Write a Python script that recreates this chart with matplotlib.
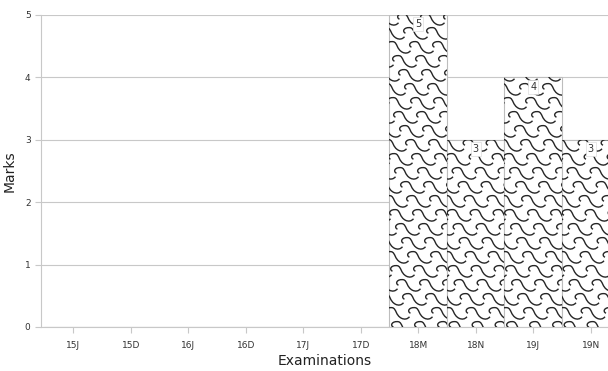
"""
Marks per examination, bars filled with a wave pattern.
"""
import numpy as np
import matplotlib
matplotlib.use('Agg')
import matplotlib.pyplot as plt
from matplotlib.path import Path
from matplotlib.patches import PathPatch

# ─── Datos ───────────────────────────────────────────────────────────────────
examinations = ['15J', '15D', '16J', '16D', '17J', '17D', '18M', '18N', '19J', '19N']
marks = [0, 0, 0, 0, 0, 0, 5, 3, 4, 3]
y_ticks = [0, 1, 2, 3, 4, 5]

GRID_GRAY = '#c8c8c8'
TEXT_GRAY = '#333333'

# Motivo de ola en píxeles (ancho W, alto H): gancho arriba a la izquierda,
# cresta, bajada y cola que pasa por debajo del gancho siguiente.
WAVE_W, WAVE_H = 23.0, 14.0
WAVE_VERTS = [(4, 6),
              (0, 8), (3, 12.5), (9, 11.5),
              (13, 10.5), (12, 4), (18, 1),
              (21, -0.5), (24, 0), (26, 2.5)]
WAVE_CODES = [Path.MOVETO] + [Path.CURVE4] * 9


def wave_path(x0, x1, y0, y1, px_x, px_y):
    """Path compuesto con el motivo de olas cubriendo [x0,x1]x[y0,y1].

    px_x / px_y = cuántos datos vale un píxel en cada eje.
    """
    base = np.array(WAVE_VERTS, dtype=float)
    paths = []
    n_cols = int((x1 - x0) / (WAVE_W * px_x)) + 3
    n_rows = int((y1 - y0) / (WAVE_H * px_y)) + 3
    for r in range(-1, n_rows):
        shift = (r * 6.0) % WAVE_W
        for c in range(-1, n_cols):
            v = base.copy()
            v[:, 0] = x0 + (v[:, 0] + c * WAVE_W - shift) * px_x
            v[:, 1] = y0 + (v[:, 1] + r * WAVE_H) * px_y
            paths.append(Path(v, WAVE_CODES))
    return Path.make_compound_path(*paths)


fig = plt.figure(figsize=(6.08, 3.71), dpi=100)
ax = fig.add_axes([41 / 608, 44 / 371, (608 - 41) / 608, (327 - 15) / 371])

x = np.arange(len(examinations))
bars = ax.bar(x, marks, width=1.0, color='white', edgecolor='#bdbdbd',
              linewidth=0.8, zorder=2)

ax.set_xlim(-0.56, 9.30)
ax.set_ylim(0, 5)

# Cuánto vale un píxel en unidades de datos (ejes fijos, así que alcanza con esto).
px_x = (9.30 + 0.56) / (608 - 41)
px_y = 5 / (327 - 15)

for xi, h, bar in zip(x, marks, bars):
    if h <= 0:
        continue
    wp = wave_path(xi - 0.5, xi + 0.5, -0.1, h, px_x, px_y)
    patch = PathPatch(wp, facecolor='none', edgecolor='#262626',
                      linewidth=1.0, zorder=3)
    ax.add_patch(patch)
    patch.set_clip_path(bar)
    ax.annotate(str(h), xy=(xi, h), xytext=(0, -3), textcoords='offset points',
                ha='center', va='top', fontsize=7, color=TEXT_GRAY, zorder=4,
                bbox=dict(boxstyle='square,pad=0.2', facecolor='white',
                          edgecolor='#dddddd', linewidth=0.5))

ax.set_yticks(y_ticks)
ax.set_xticks(x)
ax.set_xticklabels(examinations)
ax.yaxis.grid(True, color=GRID_GRAY, linewidth=0.8, zorder=0)
ax.set_axisbelow(True)
ax.tick_params(axis='both', labelsize=6.5, labelcolor=TEXT_GRAY,
               color=GRID_GRAY, length=4, width=0.8)
ax.tick_params(axis='x', pad=6)

for side in ('top', 'right'):
    ax.spines[side].set_visible(False)
for side in ('left', 'bottom'):
    ax.spines[side].set_color(GRID_GRAY)
    ax.spines[side].set_linewidth(0.8)

ax.set_xlabel('Examinations', fontsize=10, color='#222222', labelpad=3)
ax.set_ylabel('Marks', fontsize=10, color='#222222', labelpad=6)

fig.savefig('out.png', dpi=100)
